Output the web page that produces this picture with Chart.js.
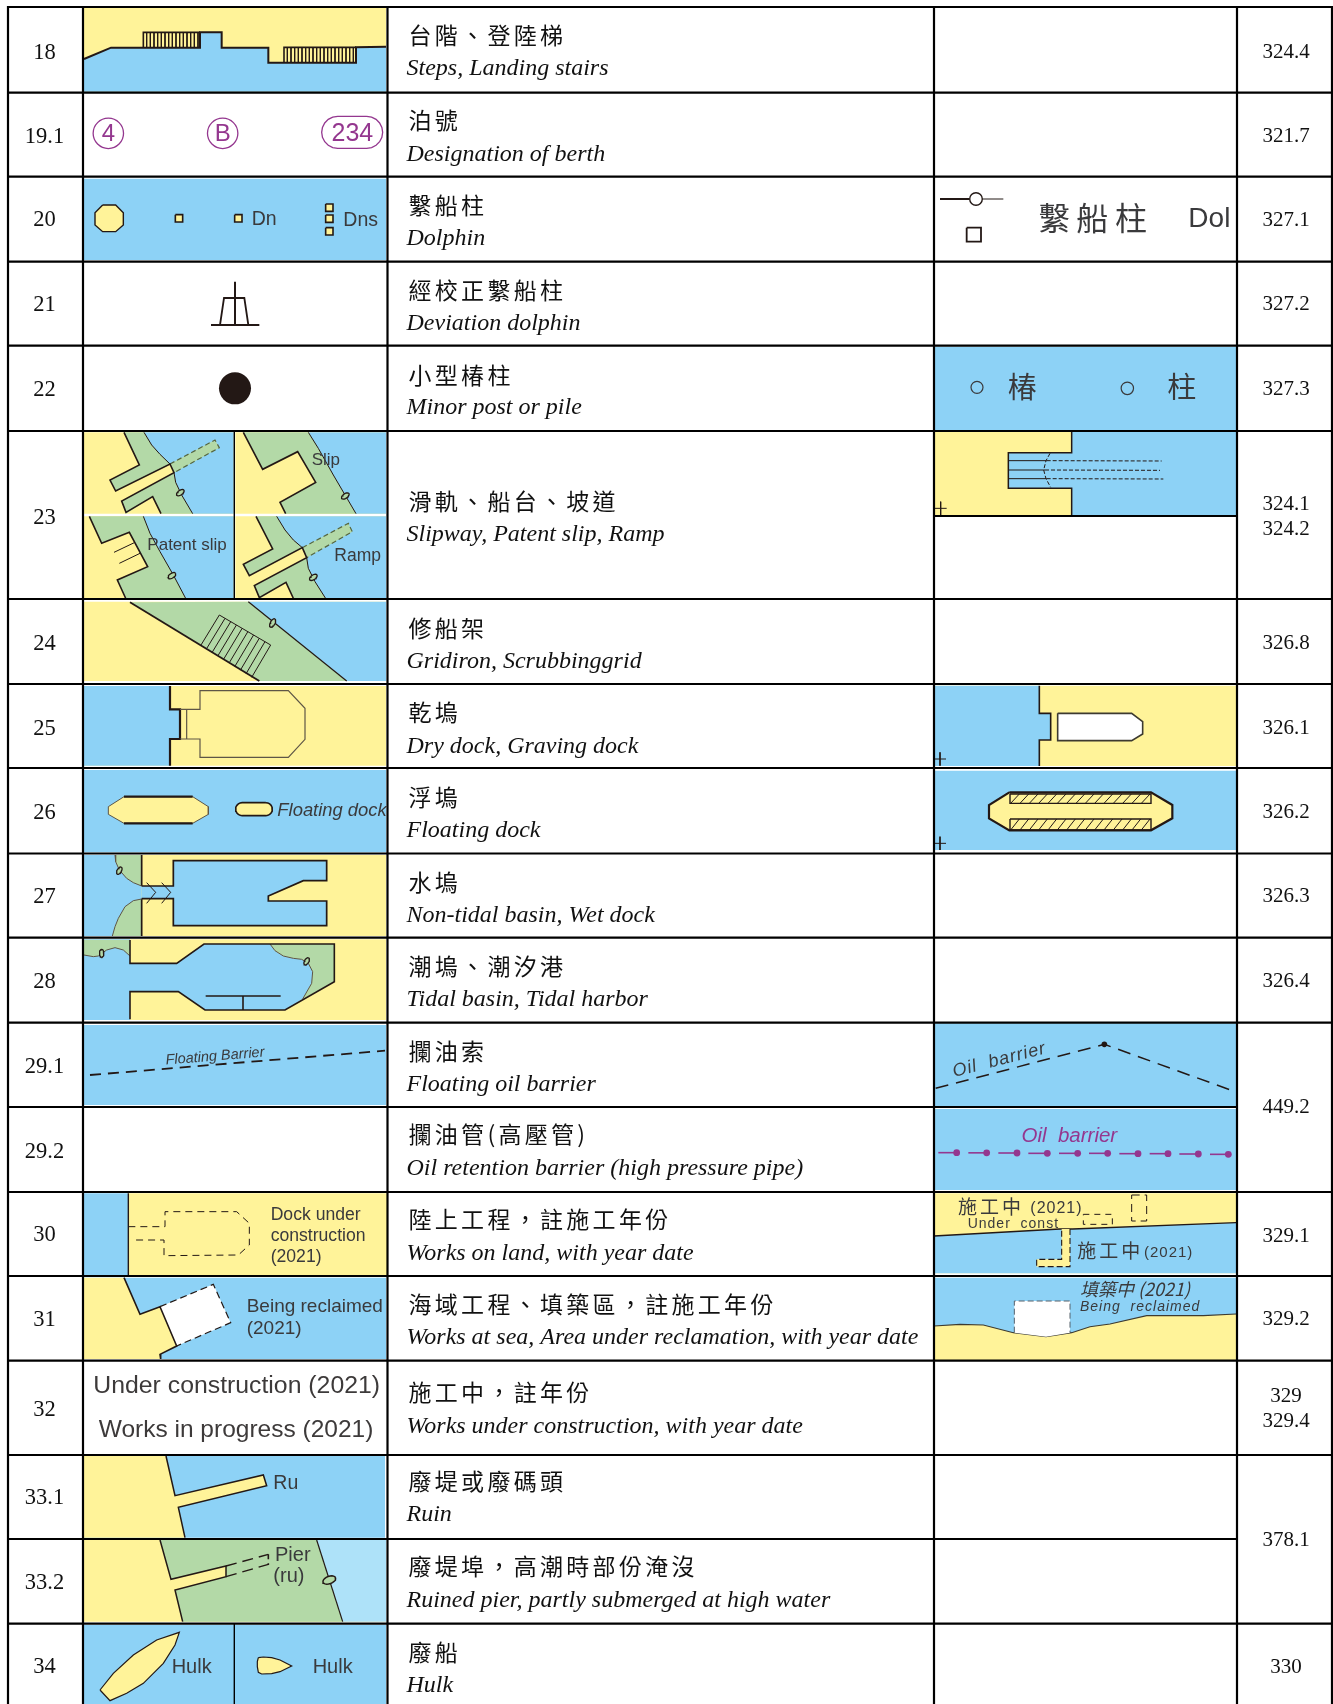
<!DOCTYPE html>
<html>
<head>
<meta charset="utf-8">
<title>Symbols</title>
<script src="https://cdn.jsdelivr.net/npm/chart.js@4/dist/chart.umd.js"></script>
<style>
  html, body { margin: 0; padding: 0; background: #fff; }
  canvas { display: block; }
</style>
</head>
<body>
<canvas id="sheet" width="1333" height="1704"></canvas>
<script>
// table content
const rowNos = ['18','19.1','20','21','22','23','24','25','26','27','28','29.1','29.2','30','31','32','33.1','33.2','34'];
const rowNoY = [53,137,220.5,305,390,518,644,729,813,897,982,1067,1152,1235,1320,1410,1498,1583,1667];
const zhTitles = ['台階、登陸梯','泊號','繫船柱','經校正繫船柱','小型椿柱','滑軌、船台、坡道','修船架','乾塢','浮塢','水塢','潮塢、潮汐港','攔油索','攔油管(高壓管)','陸上工程，註施工年份','海域工程、填築區，註施工年份','施工中，註年份','廢堤或廢碼頭','廢堤埠，高潮時部份淹沒','廢船'];
const zhY = [35,120.5,205,290,375,501,628,712,797,882,966,1051,1134,1219,1304,1392,1481,1566,1652];
const enTitles = ['Steps, Landing stairs','Designation of berth','Dolphin','Deviation dolphin','Minor post or pile','Slipway, Patent slip, Ramp','Gridiron, Scrubbinggrid','Dry dock, Graving dock','Floating dock','Non-tidal basin, Wet dock','Tidal basin, Tidal harbor','Floating oil barrier','Oil retention barrier (high pressure pipe)','Works on land, with year date','Works at sea, Area under reclamation, with year date','Works under construction, with year date','Ruin','Ruined pier, partly submerged at high water','Hulk'];
const enY = [69,155,239,324,408,535,662,747,831,915.5,1000,1085,1169,1254,1338,1427,1515,1600.5,1686];
const refs = ['324.4','321.7','327.1','327.2','327.3','324.1','324.2','326.8','326.1','326.2','326.3','326.4','449.2','329.1','329.2','329','329.4','378.1','330'];
const refY = [52.5,136.5,220.5,304.5,389.5,504.5,529.5,643.5,728.5,812.5,896.5,981.5,1107.5,1236,1319.5,1396.5,1421.5,1540.5,1667];

// grid lines
const rowEdges = [7,92.7,176.7,261.7,345.7,431,599,684,768,853.5,937.7,1022.7,1107,1192,1276,1360.7,1455,1539,1623.7];
const colEdges = [8,83,387.5,934,1237,1332];
const mergedRefEdges = [1107,1539];

const BLUE = '#8dd2f6', YELLOW = '#fff399', GREEN = '#b3d9a7', PALE = '#aee2f9';
const INK = '#231815', GREY = '#3a3a3c', PURPLE = '#94378f';
const SANS = '"Liberation Sans"', SERIF = '"Liberation Serif"', CJK = '"Noto Sans CJK TC"';

const frame = (ox, oy) => pts => pts.map(p => ({ x: ox + p[0] / 3, y: oy + p[1] / 3 }));
const F1 = frame(0, 0), F2 = frame(0, 425), F3 = frame(0, 850), F4 = frame(0, 1275);
const F5 = frame(920, 170), F6 = frame(920, 670), F7 = frame(920, 1010);

const datasets = [];
const labels = [];

function shape(pts, o = {}) {
  datasets.push({
    data: o.close ? [...pts, pts[0]] : pts,
    fill: o.fill ? 'shape' : false,
    backgroundColor: o.fill || 'transparent',
    borderColor: o.line || 'transparent',
    borderWidth: o.line ? (o.lw || 1.5) : 0,
    borderDash: o.dash || [],
    tension: o.smooth || 0,
    pointRadius: 0,
    clip: false
  });
}
function dot(f, x, y, r, o = {}) {
  datasets.push({
    data: f([[x, y]]),
    showLine: false,
    pointRadius: r,
    pointBackgroundColor: o.fill || 'transparent',
    pointBorderColor: o.line || 'transparent',
    pointBorderWidth: o.lw || 0,
    clip: false
  });
}
function rect(f, x0, y0, x1, y1, o) {
  shape(f([[x0,y0],[x1,y0],[x1,y1],[x0,y1]]), { close: true, ...o });
}
function segs(f, list, o) {
  list.forEach(s => shape(f(s), o));
}
function oval(f, cx, cy, rx, ry, deg, o = {}) {
  const pts = [], a = deg * Math.PI / 180;
  for (let i = 0; i < 20; i++) {
    const t = i / 20 * Math.PI * 2;
    const ex = rx * Math.cos(t), ey = ry * Math.sin(t);
    pts.push([cx + ex * Math.cos(a) - ey * Math.sin(a), cy + ex * Math.sin(a) + ey * Math.cos(a)]);
  }
  shape(f(pts), { close: true, line: INK, lw: 1.3, ...o });
}
function pill(f, x0, y0, x1, y1, o) {
  const r = (y1 - y0) / 2, pts = [];
  for (let i = 0; i <= 10; i++) {
    const t = -Math.PI / 2 + i / 10 * Math.PI;
    pts.push([x1 - r + r * Math.cos(t), y0 + r + r * Math.sin(t)]);
  }
  for (let i = 0; i <= 10; i++) {
    const t = Math.PI / 2 + i / 10 * Math.PI;
    pts.push([x0 + r + r * Math.cos(t), y0 + r + r * Math.sin(t)]);
  }
  shape(f(pts), { close: true, ...o });
}
function plus(f, x, y) {
  segs(f, [[[x-18,y],[x+18,y]], [[x,y-20],[x,y+20]]], { line: INK, lw: 1 });
}
function label(f, x, y, t, font, color, o = {}) {
  const p = f([[x, y]])[0];
  // textBaseline middle sits a bit high for latin text
  const nudge = font.includes('CJK') ? 0 : 1.5;
  labels.push({ x: p.x, y: p.y + nudge, t, font, color, ...o });
}

/* ---- symbol column ---- */

// 18 steps
rect(F1, 252, 22, 1158, 275, { fill: YELLOW });
shape(F1([[252,177],[333,143],[600,143],[600,97],[665,97],[665,143],[805,143],[805,188],[1068,188],[1068,142],[1158,140],[1158,275],[252,275]]), { fill: BLUE, close: true });
for (let x = 440; x < 600; x += 11) shape(F1([[x,97],[x,143]]), { line: INK, lw: 1 });
rect(F1, 852, 142, 1068, 188, { fill: YELLOW });
for (let x = 862; x < 1068; x += 11) shape(F1([[x,142],[x,188]]), { line: INK, lw: 1 });
shape(F1([[252,177],[333,143],[430,143],[600,143],[600,97],[665,97],[665,143],[805,143],[805,188],[1068,188],[1068,142],[1158,140]]), { line: INK, lw: 2 });
shape(F1([[430,143],[430,97],[600,97]]), { line: INK, lw: 1.6 });
shape(F1([[852,188],[852,142],[1068,142]]), { line: INK, lw: 1.6 });

// 19.1 berths
dot(F1, 325, 400, 15.2, { line: PURPLE, lw: 1.3 });
dot(F1, 668, 400, 15.2, { line: PURPLE, lw: 1.3 });
pill(F1, 965, 349, 1148, 445, { line: PURPLE, lw: 1.3 });
label(F1, 325, 400, '4', `24px ${SANS}`, PURPLE, { align: 'center' });
label(F1, 668, 400, 'B', `24px ${SANS}`, PURPLE, { align: 'center' });
label(F1, 1057, 398, '234', `25px ${SANS}`, PURPLE, { align: 'center' });

// 20 dolphin
rect(F1, 252, 536, 1158, 780, { fill: BLUE });
shape(F1([[308,615],[347,615],[370,638],[370,675],[347,695],[308,695],[285,675],[285,638]]), { close: true, fill: YELLOW, line: INK, lw: 1.4 });
[[537,655],[715,655],[988,623],[988,656],[988,694]].forEach(c => {
  rect(F1, c[0]-11, c[1]-11, c[0]+11, c[1]+11, { fill: YELLOW, line: INK, lw: 1.6 });
});
label(F1, 755, 655, 'Dn', `19.5px ${SANS}`, GREY);
label(F1, 1030, 657, 'Dns', `19.5px ${SANS}`, GREY);

// 21 deviation dolphin
segs(F1, [[[705,845],[705,975]], [[633,975],[778,975]]], { line: INK, lw: 2 });
shape(F1([[660,975],[672,894],[733,894],[745,975]]), { line: INK, lw: 1.8 });

// 22 minor post
dot(F1, 705, 1165, 16, { fill: INK });

// 23 slipway, four small panels
rect(F2, 248, 22, 701, 266, { fill: YELLOW });
shape(F2([[432,22],[455,60],[480,88],[510,117],[522,143],[527,172],[545,210],[578,266],[701,266],[701,22]]), { close: true, fill: BLUE });
shape(F2([[372,22],[418,120],[330,165],[347,198],[510,117],[480,88],[455,60],[432,22]]), { close: true, fill: GREEN });
shape(F2([[522,143],[365,228],[378,266],[458,215],[485,266],[578,266],[545,210],[527,172]]), { close: true, fill: GREEN });
shape(F2([[510,117],[645,45],[658,68],[522,143]]), { close: true, fill: GREEN });
shape(F2([[510,117],[645,45],[658,68],[522,143]]), { line: '#55663f', lw: 1.2, dash: [5,3] });
shape(F2([[372,22],[418,120],[330,165],[347,198],[510,117],[522,143],[365,228],[378,262],[458,215],[483,266]]), { line: INK, lw: 1.6 });
segs(F2, [[[432,22],[455,60],[480,88],[510,117]], [[522,143],[527,172],[545,210],[578,266]]], { line: INK, lw: 1 });
oval(F2, 541, 203, 13, 7, -35, { fill: GREEN });

rect(F2, 706, 22, 1158, 266, { fill: YELLOW });
shape(F2([[925,22],[955,70],[1000,150],[1068,266],[1158,266],[1158,22]]), { close: true, fill: BLUE });
shape(F2([[730,22],[788,133],[893,80],[947,172],[840,232],[857,266],[1068,266],[1000,150],[955,70],[925,22]]), { close: true, fill: GREEN });
shape(F2([[730,22],[788,133],[893,80],[947,172],[840,232],[857,266]]), { line: INK, lw: 1.6 });
shape(F2([[925,22],[955,70],[1000,150],[1068,266]]), { line: INK, lw: 1 });
oval(F2, 1036, 213, 13, 7, -35, { fill: GREEN });
label(F2, 935, 100, 'Slip', `17px ${SANS}`, GREY);

rect(F2, 248, 274, 701, 522, { fill: YELLOW });
shape(F2([[430,274],[450,325],[480,380],[520,450],[558,522],[701,522],[701,274]]), { close: true, fill: BLUE });
shape(F2([[268,274],[305,355],[388,322],[443,425],[352,465],[378,522],[558,522],[520,450],[480,380],[450,325],[430,274]]), { close: true, fill: GREEN });
shape(F2([[268,274],[305,355],[388,322],[443,425],[352,465],[378,522]]), { line: INK, lw: 1.6 });
shape(F2([[430,274],[450,325],[480,380],[520,450],[558,522]]), { line: INK, lw: 1 });
segs(F2, [[[342,382],[405,352]], [[358,415],[420,385]]], { line: INK, lw: 1 });
oval(F2, 516, 452, 13, 7, -35, { fill: GREEN });
label(F2, 442, 355, 'Patent slip', `17px ${SANS}`, GREY);

rect(F2, 706, 274, 1158, 522, { fill: YELLOW });
shape(F2([[830,274],[855,315],[880,345],[907,368],[920,398],[925,430],[945,470],[978,522],[1158,522],[1158,274]]), { close: true, fill: BLUE });
shape(F2([[768,274],[818,372],[730,418],[748,452],[907,368],[880,345],[855,315],[830,274]]), { close: true, fill: GREEN });
shape(F2([[920,398],[763,482],[778,522],[858,472],[883,522],[978,522],[945,470],[925,430]]), { close: true, fill: GREEN });
shape(F2([[907,368],[1045,295],[1057,320],[920,398]]), { close: true, fill: GREEN });
shape(F2([[907,368],[1045,295],[1057,320],[920,398]]), { line: '#55663f', lw: 1.2, dash: [5,3] });
shape(F2([[768,274],[818,372],[730,418],[748,452],[907,368],[920,398],[763,482],[778,518],[858,472],[881,522]]), { line: INK, lw: 1.6 });
segs(F2, [[[830,274],[855,315],[880,345],[907,368]], [[920,398],[925,430],[945,470],[978,522]]], { line: INK, lw: 1 });
oval(F2, 940, 457, 13, 7, -35, { fill: GREEN });
label(F2, 1003, 390, 'Ramp', `17.5px ${SANS}`, GREY);

// 24 gridiron
rect(F2, 252, 530, 1158, 768, { fill: YELLOW });
shape(F2([[745,530],[1040,768],[1158,768],[1158,530]]), { close: true, fill: BLUE });
shape(F2([[390,532],[778,768],[1040,768],[745,530]]), { close: true, fill: GREEN });
shape(F2([[390,532],[778,768]]), { line: INK, lw: 1.8 });
shape(F2([[745,530],[1040,768]]), { line: INK, lw: 1.2 });
for (let i = 0; i <= 9; i++) {
  const t = i / 9;
  shape(F2([[658 + 154*t, 570 + 90*t], [603 + 152*t, 660 + 97*t]]), { line: INK, lw: 1 });
}
shape(F2([[658,570],[812,660]]), { line: INK, lw: 1 });
oval(F2, 818, 594, 14, 7, -62, { fill: GREEN });

// 25 dry dock
rect(F2, 252, 783, 1158, 1022, { fill: YELLOW });
shape(F2([[252,783],[510,783],[510,853],[540,853],[540,942],[510,942],[510,1022],[252,1022]]), { close: true, fill: BLUE });
shape(F2([[510,783],[510,853],[540,853],[540,942],[510,942],[510,1022]]), { line: INK, lw: 2.2 });
shape(F2([[540,853],[600,853],[600,797],[865,797],[915,850],[915,943],[865,997],[600,997],[600,942],[540,942]]), { line: '#5e5646', lw: 1.2 });
shape(F2([[560,853],[560,942]]), { line: '#5e5646', lw: 1.2 });

// 26 floating dock
rect(F2, 248, 1035, 1158, 1282, { fill: BLUE });
shape(F2([[372,1115],[578,1115],[625,1145],[625,1168],[578,1195],[372,1195],[325,1168],[325,1145]]), { close: true, fill: YELLOW, line: '#5e5646', lw: 1 });
segs(F2, [[[372,1115],[578,1115]], [[372,1195],[578,1195]]], { line: INK, lw: 2.2 });
pill(F2, 707, 1133, 817, 1172, { fill: YELLOW, line: INK, lw: 1.6 });
label(F2, 832, 1154, 'Floating dock', `italic 18.4px ${SANS}`, GREY);

// 27 wet dock
rect(F3, 252, 15, 1158, 258, { fill: YELLOW });
rect(F3, 252, 15, 425, 258, { fill: BLUE });
const wetBankTop = [[345,15],[347,35],[358,60],[380,85],[400,98],[425,108]];
const wetBankLow = [[425,147],[400,152],[375,170],[355,205],[345,230],[337,258]];
shape(F3([...wetBankTop,[425,15]]), { close: true, fill: GREEN });
shape(F3([...wetBankLow,[425,258]]), { close: true, fill: GREEN });
const wetBasin = [[425,108],[520,108],[520,32],[980,32],[980,92],[910,92],[805,138],[805,153],[980,153],[980,227],[520,227],[520,146],[425,146]];
shape(F3(wetBasin), { fill: BLUE, line: INK, lw: 1.7 });
segs(F3, [[[425,15],[425,108]], [[425,146],[425,258]]], { line: INK, lw: 1.7 });
segs(F3, [wetBankTop, wetBankLow], { line: '#5e5646', lw: 1 });
segs(F3, [[[440,98],[467,127],[440,160]], [[485,98],[512,127],[485,160]]], { line: INK, lw: 1 });
oval(F3, 358, 62, 12, 6.5, -60, { fill: GREEN });

// 28 tidal basin
rect(F3, 252, 268, 1158, 510, { fill: YELLOW });
rect(F3, 252, 268, 390, 510, { fill: BLUE });
const topLeftBank = [[252,315],[280,320],[295,318],[320,300],[345,293],[370,300],[390,318]];
shape(F3([...topLeftBank,[390,270],[252,270]]), { close: true, fill: GREEN });
shape(F3(topLeftBank), { line: '#5e5646', lw: 1 });
const basinBank = [[810,282],[825,302],[850,318],[880,325],[905,328],[925,340],[938,365],[935,400],[908,447]];
shape(F3([[390,340],[530,340],[612,282],[810,282],...basinBank.slice(1),[855,480],[615,480],[535,425],[390,425]]), { close: true, fill: BLUE });
shape(F3([...basinBank,[1003,395],[1003,282]]), { close: true, fill: GREEN });
shape(F3(basinBank), { line: '#5e5646', lw: 1 });
shape(F3([[390,270],[390,340],[530,340],[612,282],[1003,282],[1003,395],[855,480],[615,480],[535,425],[390,425],[390,508]]), { line: INK, lw: 1.6 });
segs(F3, [[[617,438],[842,438]], [[729,438],[729,480]]], { line: INK, lw: 1.6 });
oval(F3, 305, 310, 12, 6.5, 90, { fill: GREEN });
oval(F3, 920, 334, 12, 6.5, -60, { fill: GREEN });

// 29.1 floating barrier
rect(F3, 252, 525, 1158, 765, { fill: BLUE });
shape(F3([[270,675],[1155,602]]), { line: INK, lw: 1.8, dash: [11,7] });
label(F3, 645, 615, 'Floating Barrier', `italic 14.5px ${SANS}`, GREY, { align: 'center', rot: -4.7 });

// 30 dock under construction
rect(F3, 252, 1030, 385, 1275, { fill: BLUE });
rect(F3, 385, 1030, 1162, 1275, { fill: YELLOW });
shape(F3([[385,1030],[385,1275]]), { line: INK, lw: 1.4 });
shape(F3([[385,1130],[495,1130],[495,1085],[710,1085],[748,1120],[748,1185],[715,1215],[492,1217],[492,1170],[398,1170]]), { line: INK, lw: 1, dash: [7,5] });
label(F3, 812, 1090, 'Dock under', `17.6px ${SANS}`, GREY);
label(F3, 812, 1153, 'construction', `17.6px ${SANS}`, GREY);
label(F3, 812, 1218, '(2021)', `17.6px ${SANS}`, GREY);

// 31 being reclaimed
rect(F4, 252, 8, 1158, 252, { fill: BLUE });
shape(F4([[252,8],[372,8],[420,118],[480,95],[530,213],[480,238],[482,252],[252,252]]), { close: true, fill: YELLOW });
shape(F4([[480,95],[640,28],[692,143],[530,213]]), { close: true, fill: '#fff' });
shape(F4([[480,95],[640,28],[692,143],[530,213]]), { line: INK, lw: 1.2, dash: [7,4] });
shape(F4([[372,8],[420,118],[480,95],[530,213],[480,238],[482,252]]), { line: INK, lw: 1.6 });
label(F4, 740, 90, 'Being reclaimed', `19px ${SANS}`, GREY);
label(F4, 740, 156, '(2021)', `19px ${SANS}`, GREY);

// 32 texts only
label(F4, 710, 328, 'Under construction (2021)', `24.8px ${SANS}`, '#3d3a3a', { align: 'center' });
label(F4, 708, 460, 'Works in progress (2021)', `24.5px ${SANS}`, '#3d3a3a', { align: 'center' });

// 33.1 ruin
rect(F4, 248, 543, 1155, 788, { fill: BLUE });
shape(F4([[248,543],[498,543],[525,662],[790,600],[800,632],[535,697],[555,788],[248,788]]), { close: true, fill: YELLOW });
shape(F4([[498,543],[525,662],[790,600],[800,632],[535,697],[555,788]]), { line: INK, lw: 1.5 });
label(F4, 820, 622, 'Ru', `19.5px ${SANS}`, GREY);

// 33.2 ruined pier
rect(F4, 252, 795, 1158, 1040, { fill: YELLOW });
shape(F4([[480,795],[950,795],[1028,1040],[548,1040],[525,945],[678,905],[678,873],[513,913]]), { close: true, fill: GREEN });
shape(F4([[950,795],[1158,795],[1158,1040],[1028,1040]]), { close: true, fill: PALE });
shape(F4([[480,795],[513,913],[678,873],[678,905],[525,945],[548,1040]]), { line: INK, lw: 1.5 });
shape(F4([[950,795],[1028,1040]]), { line: INK, lw: 1.2 });
segs(F4, [[[678,873],[805,838]], [[678,905],[805,868]]], { line: INK, lw: 1.4, dash: [11,6] });
shape(F4([[805,838],[805,870]]), { line: INK, lw: 1.6, dash: [5,4] });
oval(F4, 988, 915, 20, 11, -20, { lw: 1.5, fill: GREEN });
label(F4, 825, 836, 'Pier', `20px ${SANS}`, GREY);
label(F4, 820, 901, '(ru)', `20px ${SANS}`, GREY);

// 34 hulk
rect(F4, 248, 1050, 1158, 1287, { fill: BLUE });
shape(F4([[300,1245],[340,1195],[400,1140],[470,1095],[538,1072],[525,1110],[490,1165],[430,1225],[380,1255],[330,1277]]), { close: true, fill: YELLOW, line: INK, lw: 1.2 });
shape(F4([[775,1148],[790,1146],[815,1148],[840,1155],[875,1173],[840,1190],[815,1196],[785,1197],[775,1192],[772,1175],[772,1160]]), { close: true, fill: YELLOW, line: INK, lw: 1.2 });
label(F4, 515, 1172, 'Hulk', `20px ${SANS}`, GREY);
label(F4, 938, 1172, 'Hulk', `20px ${SANS}`, GREY);

/* ---- mainland chart column ---- */

// 20 dolphin
segs(F5, [[[60,87],[148,87]]], { line: INK, lw: 2 });
shape(F5([[188,87],[250,87]]), { line: INK, lw: 1 });
dot(F5, 168, 87, 6.3, { line: INK, lw: 1.4 });
rect(F5, 140, 173, 183, 215, { line: INK, lw: 1.8 });
label(F5, 403, 143, '繫', `32px ${CJK}`, GREY, { align: 'center' });
label(F5, 517, 143, '船', `32px ${CJK}`, GREY, { align: 'center' });
label(F5, 633, 143, '柱', `32px ${CJK}`, GREY, { align: 'center' });
label(F5, 805, 144, 'Dol', `28px ${SANS}`, GREY);

// 22 pile
rect(F5, 42, 530, 948, 780, { fill: BLUE });
dot(F5, 171, 652, 6, { line: GREY, lw: 1.2 });
dot(F5, 622, 655, 6.2, { line: GREY, lw: 1.2 });
label(F5, 307, 652, '椿', `29px ${CJK}`, GREY, { align: 'center' });
label(F5, 785, 652, '柱', `29px ${CJK}`, GREY, { align: 'center' });

// 23 slipway
rect(F5, 42, 785, 948, 1035, { fill: YELLOW });
const slipOutline = [[455,785],[455,848],[265,848],[265,955],[455,955],[455,1035]];
shape(F5([...slipOutline,[948,1035],[948,785]]), { close: true, fill: BLUE });
shape(F5(slipOutline), { line: INK, lw: 1.5 });
segs(F5, [[[265,872],[380,872]], [[265,900],[375,900]], [[265,926],[380,926]]], { line: INK, lw: 1 });
segs(F5, [[[380,872],[725,873]], [[375,900],[720,901]], [[380,926],[730,927]]], { line: INK, lw: 1, dash: [4,2] });
shape(F5([[390,850],[378,872],[371,900],[378,926],[392,952]]), { line: INK, lw: 1, dash: [4,2] });
plus(F5, 62, 1015);

// 25 dry dock
rect(F6, 42, 47, 948, 288, { fill: YELLOW });
const dockOutline = [[358,47],[358,130],[392,130],[392,210],[358,210],[358,288]];
shape(F6([...dockOutline,[42,288],[42,47]]), { close: true, fill: BLUE });
shape(F6(dockOutline), { line: INK, lw: 1.6 });
shape(F6([[413,130],[635,130],[668,155],[668,192],[635,212],[413,212]]), { close: true, fill: '#fff', line: '#3d3a30', lw: 1.6 });
plus(F6, 60, 267);

// 26 floating dock
rect(F6, 42, 302, 948, 540, { fill: BLUE });
shape(F6([[268,367],[693,367],[757,405],[757,445],[693,481],[268,481],[207,445],[207,405]]), { close: true, fill: YELLOW, line: INK, lw: 2.2 });
[[372,400],[447,480]].forEach(b => {
  for (let x = 272; x < 680; x += 28) {
    const x0 = Math.min(x + 26, 693);
    shape(F6([[x, b[1]], [x0, b[0]]]), { line: INK, lw: 1 });
  }
  rect(F6, 270, b[0], 693, b[1], { line: INK, lw: 1.4 });
});
plus(F6, 60, 520);

// 29.1 oil barrier
rect(F7, 42, 40, 948, 288, { fill: BLUE });
shape(F7([[47,235],[553,103],[940,243]]), { line: INK, lw: 1.5, dash: [13,8] });
dot(F7, 553, 103, 2.8, { fill: INK });
label(F7, 238, 146, 'Oil  barrier', `italic 18px ${SANS}`, GREY, { align: 'center', rot: -14.6, ls: 1 });

// 29.2 pipe barrier
rect(F7, 42, 297, 948, 540, { fill: BLUE });
label(F7, 448, 373, 'Oil  barrier', `italic 20.5px ${SANS}`, PURPLE, { align: 'center' });
const pipeStarts = [55,145,235,325,417,507,598,689,778,870];
const pipeDots = [110,200,291,382,473,563,654,744,835,925];
const pipeY = [428,428.5,429,430,430,430,431,431,432,433];
pipeStarts.forEach((x, i) => {
  shape(F7([[x,pipeY[i]],[pipeDots[i],pipeY[i]]]), { line: PURPLE, lw: 1.6 });
  dot(F7, pipeDots[i], pipeY[i], 3.4, { fill: PURPLE });
});

// 30 under construction
rect(F7, 42, 550, 948, 790, { fill: YELLOW });
const shore30 = [[42,678],[420,657],[458,657],[948,638]];
shape(F7([...shore30,[948,790],[42,790]]), { close: true, fill: BLUE });
shape(F7(shore30), { line: INK, lw: 1.3 });
shape(F7([[425,657],[450,657],[450,770],[350,770],[350,748],[425,748]]), { close: true, fill: YELLOW });
shape(F7([[450,657],[450,770],[350,770],[350,748],[425,748],[425,657]]), { line: INK, lw: 1.1, dash: [6,3] });
rect(F7, 490, 613, 577, 643, { line: INK, lw: 1, dash: [6,5] });
rect(F7, 635, 555, 680, 633, { line: INK, lw: 1, dash: [8,5] });
label(F7, 114, 590, '施工中', `19px ${CJK}`, GREY, { ls: 3 });
label(F7, 331, 590, '(2021)', `16px ${SANS}`, GREY, { ls: 1 });
label(F7, 143, 638, 'Under  const', `14px ${SANS}`, GREY, { ls: 1 });
label(F7, 472, 722, '施工中', `19px ${CJK}`, GREY, { ls: 3 });
label(F7, 672, 725, '(2021)', `15px ${SANS}`, GREY, { ls: 1 });

// 31 being reclaimed
rect(F7, 42, 803, 948, 1050, { fill: BLUE });
const shore31 = [[42,948],[120,943],[190,945],[280,968],[378,980],[455,968],[510,950],[570,942],[680,917],[850,917],[948,912]];
shape(F7([...shore31,[948,1050],[42,1050]]), { close: true, fill: YELLOW });
shape(F7(shore31), { line: '#3d3a30', lw: 1.1 });
shape(F7([[283,873],[450,873],[450,968],[378,980],[283,968]]), { close: true, fill: '#fff' });
shape(F7([[283,968],[283,873],[450,873],[450,968]]), { line: '#55606a', lw: 1, dash: [6,3] });
label(F7, 480, 838, '填築中 (2021)', `italic 18px ${CJK}`, GREY);
label(F7, 480, 888, 'Being  reclaimed', `italic 14px ${SANS}`, GREY, { ls: 1 });

/* ---- grid, drawn last so it sits over the fills ---- */
rowEdges.forEach(y => {
  const right = mergedRefEdges.includes(y) ? colEdges[4] : colEdges[5];
  shape([{ x: colEdges[0], y }, { x: right, y }], { line: '#000', lw: 2.2 });
});
colEdges.forEach(x => {
  shape([{ x, y: rowEdges[0] - 1 }, { x, y: 1704 }], { line: '#000', lw: 2.2 });
});
shape([{ x: 934, y: 516 }, { x: 1237, y: 516 }], { line: '#000', lw: 2 });
shape([{ x: 234.3, y: 431 }, { x: 234.3, y: 599 }], { line: '#000', lw: 1.4 });
shape([{ x: 234.3, y: 1624 }, { x: 234.3, y: 1704 }], { line: '#000', lw: 1.4 });

// first dataset has to end up at the bottom
datasets.forEach((d, i) => { d.order = datasets.length - i; });

/* ---- table text ---- */
rowNos.forEach((t, i) => labels.push({ x: 44.5, y: rowNoY[i], t, font: `22.5px ${SERIF}`, color: '#111', align: 'center' }));
zhTitles.forEach((t, i) => labels.push({ x: 408.5, y: zhY[i], t, font: `23px ${CJK}`, color: '#111', ls: 3.3 }));
enTitles.forEach((t, i) => labels.push({ x: 406.5, y: enY[i], t, font: `italic 24px ${SERIF}`, color: '#111' }));
refs.forEach((t, i) => labels.push({ x: 1286, y: refY[i], t, font: `21px ${SERIF}`, color: '#111', align: 'center' }));

const textPlugin = {
  id: 'sheetText',
  afterDatasetsDraw(chart) {
    const { ctx, scales } = chart;
    labels.forEach(l => {
      ctx.save();
      ctx.translate(scales.x.getPixelForValue(l.x), scales.y.getPixelForValue(l.y));
      if (l.rot) ctx.rotate(l.rot * Math.PI / 180);
      ctx.font = l.font;
      ctx.fillStyle = l.color;
      ctx.textAlign = l.align || 'left';
      ctx.textBaseline = 'middle';
      ctx.letterSpacing = (l.ls || 0) + 'px';
      ctx.fillText(l.t, 0, 0);
      ctx.restore();
    });
  }
};

new Chart(document.getElementById('sheet'), {
  type: 'line',
  data: { datasets },
  plugins: [textPlugin],
  options: {
    responsive: false,
    animation: false,
    events: [],
    layout: { padding: 0, autoPadding: false },
    plugins: { legend: { display: false }, tooltip: { enabled: false } },
    scales: {
      x: { type: 'linear', min: 0, max: 1333, display: false },
      y: { type: 'linear', min: 0, max: 1704, reverse: true, display: false }
    }
  }
});
</script>
</body>
</html>
